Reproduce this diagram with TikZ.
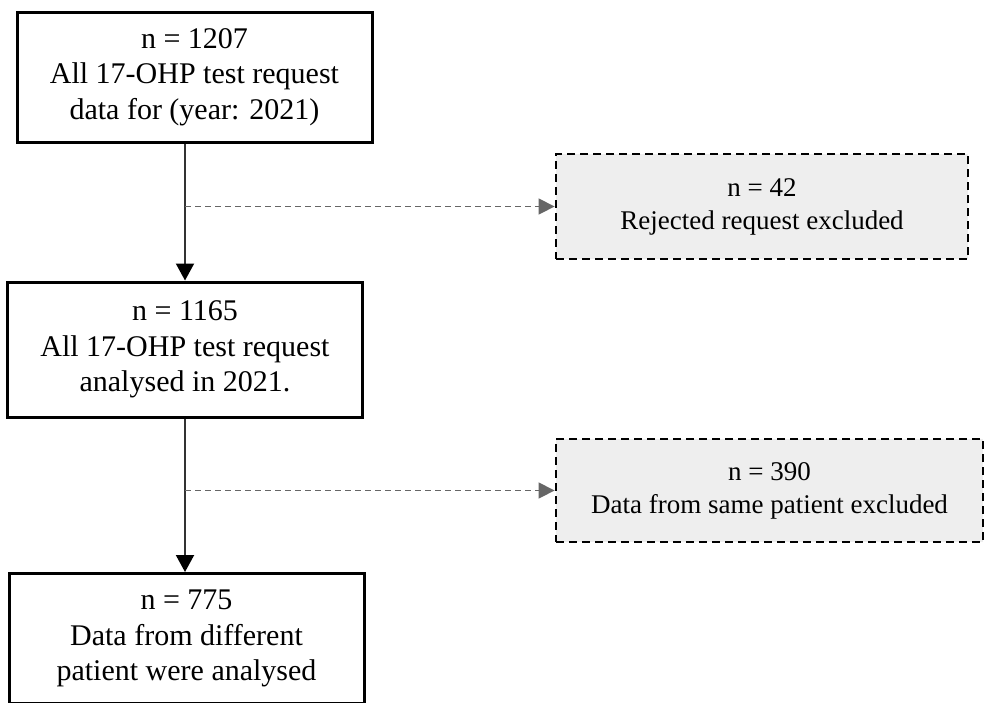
\documentclass[tikz,border=0pt]{standalone}
\usepackage{fontspec}
\setmainfont{Liberation Serif}
\usetikzlibrary{arrows.meta}
\definecolor{boxgray}{HTML}{EEEEEE}
\definecolor{flowgray}{HTML}{333333}
\definecolor{exclgray}{HTML}{666666}
\begin{document}
\begin{tikzpicture}[x=1pt,y=-1pt,
  mainbox/.style={draw=black, line width=3pt, rectangle, inner sep=0pt,
    minimum width=355pt, align=center, font=\fontsize{30}{35.5}\selectfont},
  sidebox/.style={draw=black, fill=boxgray, line width=2.8pt, dash pattern=on 8pt off 5pt,
    rectangle, inner sep=0pt, align=center, font=\fontsize{27}{33}\selectfont},
  flow/.style={draw=flowgray, line width=2pt,
    -{Triangle[length=17pt,width=18pt,fill=black,color=black]}},
  excl/.style={draw=exclgray, line width=1.3pt, dash pattern=on 6pt off 4pt,
    -{Triangle[length=16pt,width=16pt,fill=exclgray,color=exclgray]}},
]
\clip (0,0) rectangle (984,702);
\fill[white] (0,0) rectangle (984,702);

\node[mainbox, minimum height=130pt] (b1) at (194.5,77)
  {n = 1207\\All 17-OHP test request\\data for (year: 2021)};
\node[mainbox, minimum height=135pt] (b2) at (185,349.5)
  {n = 1165\\All 17-OHP test request\\analysed in 2021.};
\node[mainbox, minimum height=130pt] (b3) at (186.5,638.5)
  {n = 775\\Data from different\\patient were analysed};

\node[sidebox, minimum width=412pt, minimum height=105pt] (s1) at (762,206.5)
  {n = 42\\Rejected request excluded};
\node[sidebox, minimum width=427pt, minimum height=103pt] (s2) at (769.5,490.5)
  {n = 390\\Data from same patient excluded};

\coordinate (ax) at (185,0);
\draw[flow] (b1.south -| ax) -- (b2.north -| ax);
\draw[flow] (b2.south -| ax) -- (b3.north -| ax);
\draw[excl] (ax |- s1.west) -- (s1.west);
\draw[excl] (ax |- s2.west) -- (s2.west);
\end{tikzpicture}
\end{document}
